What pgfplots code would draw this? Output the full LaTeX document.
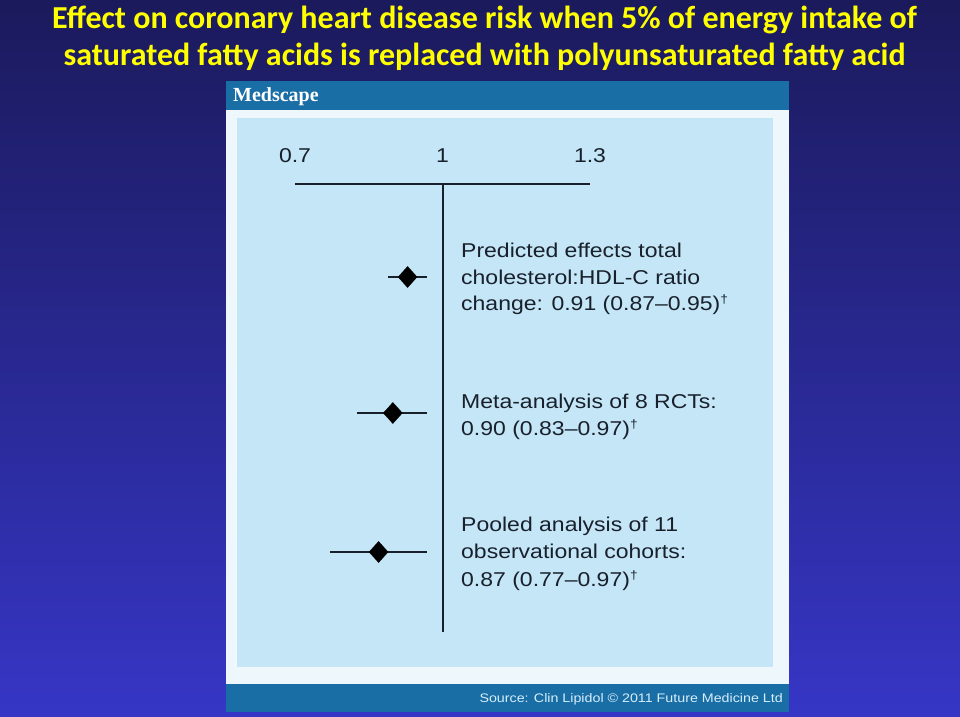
\documentclass[border=0pt]{standalone}
\usepackage{pgfplots}
\pgfplotsset{compat=1.18}
\usepackage{fontspec}
\setmainfont{Liberation Sans}
\newfontfamily\titlefont{Carlito}
\newfontfamily\medfont[FakeStretch=1.15]{Liberation Sans}
\newfontfamily\logofont{Liberation Serif}
\definecolor{bgtop}{HTML}{1B1A5C}
\definecolor{bgbot}{HTML}{3636C6}
\definecolor{msblue}{HTML}{1A6EA6}
\definecolor{panel}{HTML}{C5E6F7}
\definecolor{framec}{HTML}{EEF8FC}
\definecolor{ink}{HTML}{18202C}
\definecolor{ttl}{HTML}{FFFF00}
\definecolor{src}{HTML}{D6EEFA}
\newcommand{\dg}{{\fontsize{12}{12}\selectfont\raisebox{7pt}{†}}}
\begin{document}
\begin{tikzpicture}[x=1pt,y=1pt]
\shade[top color=bgtop, bottom color=bgbot] (0,0) rectangle (960,716);
\fill[framec] (226,4) rectangle (789,635);
\fill[msblue] (226,606) rectangle (789,635);
\fill[msblue] (226,4) rectangle (789,32);
\fill[panel] (237,49) rectangle (773,598);
% title
\node[anchor=base, text=ttl, font=\titlefont\bfseries\fontsize{32}{32}\selectfont, inner sep=0pt] at (484.5,687) {Effect on coronary heart disease risk when 5\% of energy intake of};
\node[anchor=base, text=ttl, font=\titlefont\bfseries\fontsize{32}{32}\selectfont, inner sep=0pt] at (484.5,650) {saturated fatty acids is replaced with polyunsaturated fatty acid};
% logo and source
\node[anchor=base west, text=white, font=\logofont\bfseries\fontsize{20}{20}\selectfont, inner sep=0pt] at (233,614) {Medscape};
\node[anchor=base east, text=src, font=\medfont\fontsize{12.4}{12.4}\selectfont, inner sep=0pt] at (783,14) {Source: Clin Lipidol \textcopyright\ 2011 Future Medicine Ltd};
% annotations
\begin{scope}[every node/.style={anchor=base west, text=ink, inner sep=0pt, font=\medfont\fontsize{20}{20}\selectfont}]
\node at (461,459) {Predicted effects total};
\node at (461,432) {cholesterol:HDL-C ratio};
\node at (461,406) {change: 0.91 (0.87–0.95)\dg};
\node at (461,308) {Meta-analysis of 8 RCTs:};
\node at (461,281) {0.90 (0.83–0.97)\dg};
\node at (461,185) {Pooled analysis of 11};
\node at (461,158) {observational cohorts:};
\node at (461,130) {0.87 (0.77–0.97)\dg};
\end{scope}
\begin{axis}[
  at={(295pt,84pt)}, anchor=south west,
  width=295pt, height=448pt, scale only axis,
  xmin=0.7, xmax=1.3, ymin=0, ymax=448,
  clip=false,
  axis x line*=top, axis y line=none,
  x axis line style={line width=2pt, draw=ink, -},
  xtick={0.7,1,1.3}, xticklabels={0.7,1,1.3},
  xtick style={draw=none},
  xticklabel style={font=\medfont\fontsize{20}{20}\selectfont, text=ink, anchor=base, yshift=21pt},
  ytick=\empty,
]
\draw[line width=2pt, ink] (axis cs:1,0) -- (axis cs:1,448);
\addplot[only marks, mark=diamond*, mark size=10.5pt, color=black,
  mark options={xscale=1.2},
  error bars/.cd, x dir=both, x explicit, error mark=none,
  error bar style={line width=2pt, ink}]
  table[x=x, y=y, x error plus=ep, x error minus=em] {
  x     y    ep     em
  0.929 355  0.039  0.040
  0.899 219  0.069  0.073
  0.870 80   0.098  0.099
};
\end{axis}
\end{tikzpicture}
\end{document}
